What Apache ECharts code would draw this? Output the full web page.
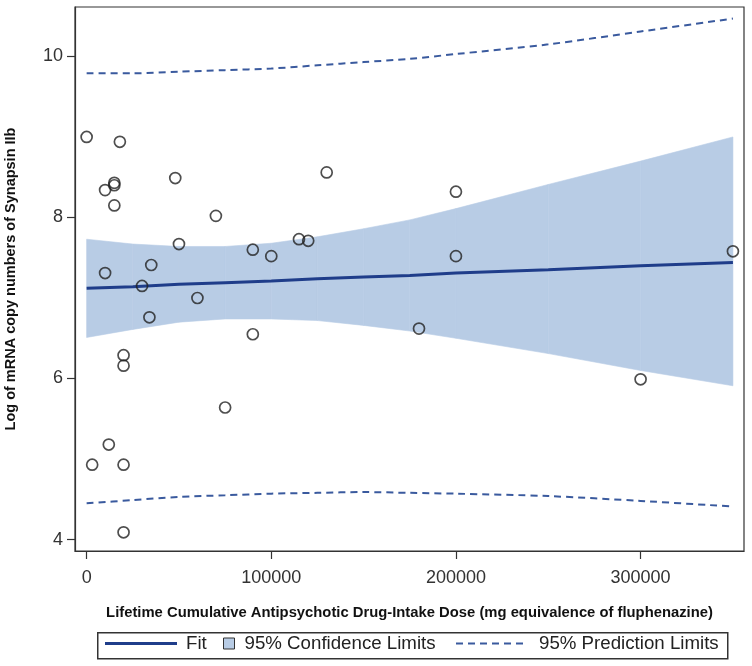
<!DOCTYPE html>
<html>
<head>
<meta charset="utf-8">
<script src="https://cdn.jsdelivr.net/npm/echarts@6/dist/echarts.min.js"></script>
<style>
  html, body { margin: 0; padding: 0; background: #fff; }
  #chart { width: 752px; height: 666px; }
</style>
</head>
<body>
<div id="chart"></div>
<script>
// Observed data points (dose, log mRNA copy numbers)
const doseX = [0, 3000, 10000, 10000, 12000, 15000, 15000, 15000, 18000, 20000, 20000, 20000, 20000,
  30000, 34000, 35000, 48000, 50000, 60000, 70000, 75000, 90000, 90000, 100000, 115000, 120000,
  130000, 180000, 200000, 200000, 300000, 350000];
const logMRNA = [9.00, 4.93, 8.34, 7.31, 5.18, 8.43, 8.40, 8.15, 8.94, 6.29, 6.16, 4.93, 4.09,
  7.15, 6.76, 7.41, 8.49, 7.67, 7.00, 8.02, 5.64, 7.60, 6.55, 7.52, 7.73, 7.71,
  8.56, 6.62, 8.32, 7.52, 5.99, 7.58];

// Fit line and limits, read at these doses
const curveX = [0, 25000, 50000, 75000, 100000, 125000, 150000, 175000, 200000, 250000, 300000, 350000];
const fitY = [7.12, 7.14, 7.17, 7.19, 7.21, 7.24, 7.26, 7.28, 7.31, 7.35, 7.40, 7.44];
const clUpper = [7.73, 7.67, 7.64, 7.64, 7.68, 7.76, 7.86, 7.97, 8.11, 8.41, 8.70, 9.00];
const clLower = [6.51, 6.61, 6.70, 6.74, 6.74, 6.72, 6.66, 6.59, 6.50, 6.31, 6.10, 5.91];
const plUpper = [9.79, 9.79, 9.81, 9.83, 9.85, 9.89, 9.93, 9.97, 10.03, 10.15, 10.31, 10.47];
const plLower = [4.45, 4.49, 4.53, 4.55, 4.57, 4.58, 4.59, 4.58, 4.57, 4.54, 4.48, 4.41];

// Tick labels
const xTicks = [0, 100000, 200000, 300000];
const yTicks = [4, 6, 8, 10];

const FIT_COLOR = '#1f3d8a';
const BAND_COLOR = '#b8cce5';
const PL_COLOR = '#3a5a9e';
const FONT = 'Arial, "Liberation Sans", sans-serif';

const pairs = (xs, ys) => xs.map((x, i) => [x, ys[i]]);
const bandData = curveX.map((x, i) => [x, clLower[i], clUpper[i]]);

const chart = echarts.init(document.getElementById('chart'), null, { renderer: 'canvas' });

chart.setOption({
  animation: false,
  backgroundColor: '#ffffff',
  grid: {
    left: 75, right: 8, top: 7, bottom: 115,
    outerBoundsMode: 'none', containLabel: false,
    show: true, borderColor: '#333', borderWidth: 1.2, backgroundColor: 'transparent'
  },
  xAxis: {
    type: 'value',
    min: -6300, max: 356000,
    name: 'Lifetime Cumulative Antipsychotic Drug-Intake Dose (mg equivalence of fluphenazine)',
    nameLocation: 'middle',
    nameGap: 54,
    nameTextStyle: { fontFamily: FONT, fontSize: 14.8, fontWeight: 'bold', color: '#111' },
    axisLine: { show: true, onZero: false, lineStyle: { color: '#333', width: 1.2 } },
    axisTick: { show: true, length: 8, customValues: xTicks, lineStyle: { color: '#333', width: 1.2 } },
    axisLabel: { customValues: xTicks, margin: 18, fontFamily: FONT, fontSize: 18, color: '#333',
      formatter: v => String(v) },
    splitLine: { show: false }
  },
  yAxis: {
    type: 'value',
    min: 3.858, max: 10.614,
    name: 'Log of mRNA copy numbers of Synapsin IIb',
    nameLocation: 'middle',
    nameGap: 57,
    nameTextStyle: { fontFamily: FONT, fontSize: 14.5, fontWeight: 'bold', color: '#111' },
    axisLine: { show: true, onZero: false, lineStyle: { color: '#333', width: 1.2 } },
    axisTick: { show: true, length: 8, customValues: yTicks, lineStyle: { color: '#333', width: 1.2 } },
    axisLabel: { customValues: yTicks, margin: 12, fontFamily: FONT, fontSize: 18, color: '#333',
      formatter: v => String(v) },
    splitLine: { show: false }
  },
  legend: [
    {
      left: 105, top: 634, padding: 0, itemWidth: 72, itemHeight: 3,
      data: [{ name: 'Fit', icon: 'rect', itemStyle: { color: FIT_COLOR } }],
      textStyle: { fontFamily: FONT, fontSize: 18.7, color: '#222', padding: [0, 0, 0, 4] }
    },
    {
      left: 223, top: 634, padding: 0, itemWidth: 11, itemHeight: 11,
      data: [{ name: '95% Confidence Limits', icon: 'rect',
        itemStyle: { color: BAND_COLOR, borderColor: '#333', borderWidth: 1 } }],
      textStyle: { fontFamily: FONT, fontSize: 18.7, color: '#222', padding: [0, 0, 0, 5] }
    },
    {
      left: 456, top: 634, padding: 0, itemWidth: 67, itemHeight: 2,
      data: [{ name: '95% Prediction Limits',
        icon: 'path://M0,0h7v2h-7z M12,0h7v2h-7z M24,0h7v2h-7z M36,0h7v2h-7z M48,0h7v2h-7z M60,0h7v2h-7z',
        itemStyle: { color: PL_COLOR } }],
      textStyle: { fontFamily: FONT, fontSize: 18.7, color: '#222', padding: [0, 0, 0, 11] }
    }
  ],
  graphic: [
    {
      type: 'rect', left: 97, top: 632, z: -1,
      shape: { width: 630, height: 26 },
      style: { fill: '#fff', stroke: '#333', lineWidth: 1.5 }
    }
  ],
  series: [
    {
      name: '95% Confidence Limits', type: 'custom', data: bandData,
      encode: { x: 0, y: [1, 2] }, silent: true, z: 1,
      itemStyle: { color: BAND_COLOR },
      renderItem: function (params, api) {
        const i = params.dataIndex;
        if (i >= bandData.length - 1) return null;
        const a = bandData[i], b = bandData[i + 1];
        const pts = [
          api.coord([a[0], a[2]]), api.coord([b[0], b[2]]),
          api.coord([b[0], b[1]]), api.coord([a[0], a[1]])
        ];
        return {
          type: 'polygon',
          shape: { points: pts },
          style: { fill: BAND_COLOR, stroke: BAND_COLOR, lineWidth: 0.6 }
        };
      }
    },
    {
      name: '95% Prediction Limits', type: 'line', data: pairs(curveX, plUpper),
      symbol: 'none', smooth: 0.3,
      lineStyle: { color: PL_COLOR, width: 2, type: [7, 5] }, itemStyle: { color: PL_COLOR }, z: 2
    },
    {
      name: '95% Prediction Limits', type: 'line', data: pairs(curveX, plLower),
      symbol: 'none', smooth: 0.3,
      lineStyle: { color: PL_COLOR, width: 2, type: [7, 5] }, itemStyle: { color: PL_COLOR }, z: 2
    },
    {
      name: 'Fit', type: 'line', data: pairs(curveX, fitY),
      symbol: 'none', lineStyle: { color: FIT_COLOR, width: 3 }, itemStyle: { color: FIT_COLOR }, z: 3
    },
    {
      name: 'Observed', type: 'scatter', data: pairs(doseX, logMRNA),
      symbol: 'circle', symbolSize: 11,
      itemStyle: { color: 'rgba(255,255,255,0)', borderColor: '#222', borderWidth: 1.7 }, z: 4
    }
  ]
});
</script>
</body>
</html>
